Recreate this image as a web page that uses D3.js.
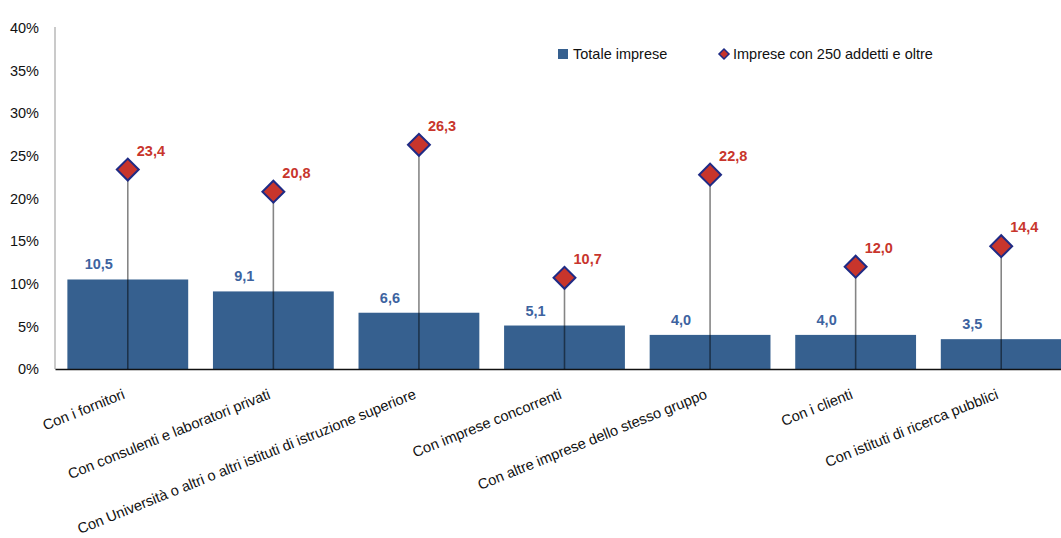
<!DOCTYPE html>
<html>
<head>
  <meta charset="utf-8" />
  <title>Collaborazioni per l'innovazione</title>
  <script src="https://cdn.jsdelivr.net/npm/d3@7"></script>
  <style>
    body { margin: 0; background: #fff; }
    svg { display: block; font-family: "Liberation Sans", Arial, sans-serif; }
  </style>
</head>
<body>
  <svg id="chart" width="1061" height="538"></svg>
  <script>
    // data
    const categories = [
      "Con i fornitori",
      "Con consulenti e laboratori privati",
      "Con Università o altri o altri istituti di istruzione superiore",
      "Con imprese concorrenti",
      "Con altre imprese dello stesso gruppo",
      "Con i clienti",
      "Con istituti di ricerca pubblici"
    ];
    const totaleImprese = [10.5, 9.1, 6.6, 5.1, 4.0, 4.0, 3.5];
    const impreseGrandi = [23.4, 20.8, 26.3, 10.7, 22.8, 12.0, 14.4];
    const yTicks = [0, 5, 10, 15, 20, 25, 30, 35, 40];
    const seriesNames = ["Totale imprese", "Imprese con 250 addetti e oltre"];

    const barColor = "#36608f";
    const barLabelColor = "#3d63a0";
    const redColor = "#c8352c";
    const navy = "#1f2b85";
    const fmt = v => v.toFixed(1).replace(".", ",");

    const svg = d3.select("#chart");
    const plotLeft = 55, plotRight = 1074, plotTop = 28, plotBottom = 369;

    const x = d3.scaleBand()
      .domain(categories)
      .range([plotLeft, plotRight])
      .paddingInner(0.17)
      .paddingOuter(0.085);

    const y = d3.scaleLinear().domain([0, 40]).range([plotBottom, plotTop]);

    const rows = categories.map((c, i) => ({ cat: c, tot: totaleImprese[i], big: impreseGrandi[i] }));
    const cx = d => x(d.cat) + x.bandwidth() / 2;

    // y axis
    const yAxis = svg.append("g")
      .attr("transform", "translate(" + plotLeft + ",0)")
      .call(d3.axisLeft(y).tickValues(yTicks).tickFormat(d => d + "%").tickSize(0).tickPadding(16));
    yAxis.select(".domain").attr("stroke", "#b8b8b8").attr("stroke-width", 1.5)
      .attr("d", "M0," + (plotTop - 1) + "V" + plotBottom);
    yAxis.selectAll("text").attr("font-size", 14.5).attr("fill", "#111")
      .attr("font-family", "Liberation Sans, Arial, sans-serif");

    // bars
    svg.selectAll("rect.bar")
      .data(rows)
      .enter()
      .append("rect")
      .attr("class", "bar")
      .attr("x", d => x(d.cat))
      .attr("y", d => y(d.tot))
      .attr("width", x.bandwidth())
      .attr("height", d => y(0) - y(d.tot))
      .attr("fill", barColor);

    // x axis
    const xAxis = svg.append("g")
      .attr("transform", "translate(0," + plotBottom + ")")
      .call(d3.axisBottom(x).tickSize(0).tickSizeOuter(0));
    xAxis.select(".domain").attr("stroke", "#111").attr("stroke-width", 1.5);
    xAxis.selectAll("text")
      .attr("y", 0)
      .attr("dy", 0)
      .attr("transform", "translate(-2,29) rotate(-22)")
      .style("text-anchor", "end")
      .attr("font-size", 14.6)
      .attr("fill", "#111")
      .attr("font-family", "Liberation Sans, Arial, sans-serif");

    // stems
    svg.selectAll("line.stem")
      .data(rows)
      .enter()
      .append("line")
      .attr("class", "stem")
      .attr("x1", cx)
      .attr("x2", cx)
      .attr("y1", d => y(d.big))
      .attr("y2", y(0))
      .attr("stroke", "#000")
      .attr("stroke-opacity", 0.48)
      .attr("stroke-width", 1.6);

    // diamonds
    const diamond = d3.symbol().type(d3.symbolSquare).size(240);
    svg.selectAll("path.dia")
      .data(rows)
      .enter()
      .append("path")
      .attr("class", "dia")
      .attr("d", diamond)
      .attr("transform", d => "translate(" + cx(d) + "," + y(d.big) + ") rotate(45)")
      .attr("fill", redColor)
      .attr("stroke", navy)
      .attr("stroke-width", 2);

    // labels on bars
    svg.selectAll("text.totLabel")
      .data(rows)
      .enter()
      .append("text")
      .attr("class", "totLabel")
      .attr("x", d => cx(d) - 29)
      .attr("y", d => y(d.tot) - 10)
      .attr("text-anchor", "middle")
      .attr("font-size", 14.5)
      .attr("font-weight", "bold")
      .attr("fill", barLabelColor)
      .text(d => fmt(d.tot));

    // labels on diamonds
    svg.selectAll("text.bigLabel")
      .data(rows)
      .enter()
      .append("text")
      .attr("class", "bigLabel")
      .attr("x", d => cx(d) + 9)
      .attr("y", d => y(d.big) - 14)
      .attr("font-size", 14.5)
      .attr("font-weight", "bold")
      .attr("fill", redColor)
      .text(d => fmt(d.big));

    // legend
    const legend = svg.append("g");
    legend.append("rect")
      .attr("x", 558).attr("y", 49).attr("width", 10).attr("height", 10)
      .attr("fill", barColor);
    legend.append("text")
      .attr("x", 573).attr("y", 59)
      .attr("font-size", 14.5).attr("fill", "#111")
      .text(seriesNames[0]);
    legend.append("path")
      .attr("d", d3.symbol().type(d3.symbolSquare).size(50))
      .attr("transform", "translate(724,54) rotate(45)")
      .attr("fill", redColor)
      .attr("stroke", navy)
      .attr("stroke-width", 1.5);
    legend.append("text")
      .attr("x", 733).attr("y", 59)
      .attr("font-size", 14.5).attr("fill", "#111")
      .text(seriesNames[1]);
  </script>
</body>
</html>
